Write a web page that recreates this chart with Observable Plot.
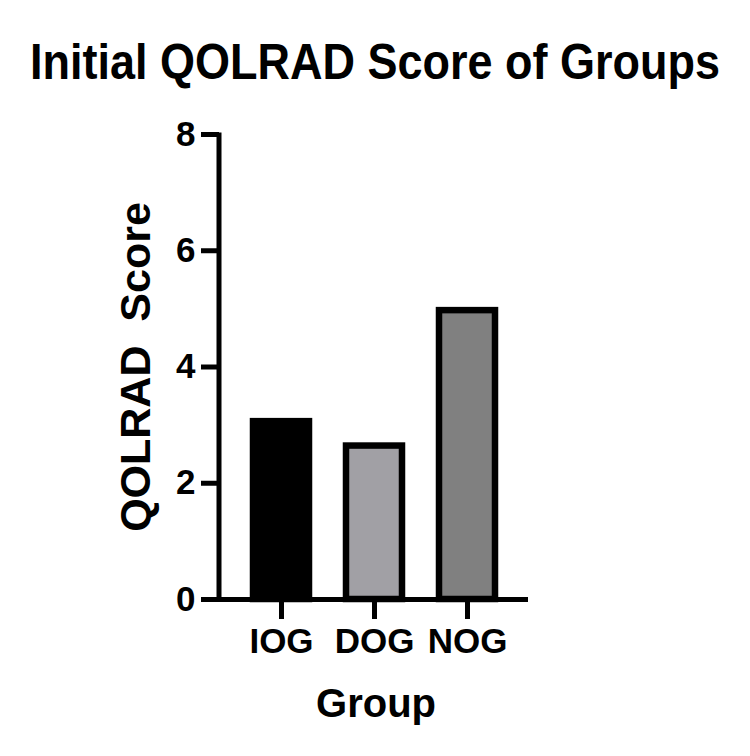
<!DOCTYPE html>
<html>
<head>
<meta charset="utf-8">
<script src="https://cdn.jsdelivr.net/npm/d3@7"></script>
<script src="https://cdn.jsdelivr.net/npm/@observablehq/plot@0.6"></script>
<style>
  html, body { margin: 0; padding: 0; background: #fff; }
  #wrap { width: 750px; font-family: "Liberation Sans", Arial, sans-serif; font-weight: bold; }
  #title { height: 110px; position: relative; }
  #title span { position: absolute; left: 0; right: 0; top: 37px; text-align: center; font-size: 45px; line-height: 1; color: #000; transform: scaleY(1.1); transform-origin: center top; }
  svg text { font-weight: bold; }
</style>
</head>
<body>
<div id="wrap">
  <div id="title"><span>Initial QOLRAD Score of Groups</span></div>
  <div id="chart"></div>
</div>
<script>
const groups = ["IOG", "DOG", "NOG"];
const scores = [3.06, 2.64, 4.97];
const fills = ["#000000", "#a1a0a5", "#808080"];
const yTicks = [0, 2, 4, 6, 8];
const xLabel = "Group";
const yLabel = "QOLRAD\u00a0\u00a0Score";

const data = groups.map((g, i) => ({group: g, score: scores[i], fill: fills[i]}));

function yAxisLine(a, b, c, d) {
  let scales, dims;
  if (a && !Array.isArray(a) && typeof a.y === "function") { scales = a; dims = b; }
  else { scales = b; dims = d; }
  const line = document.createElementNS("http://www.w3.org/2000/svg", "line");
  const x = dims.marginLeft;
  line.setAttribute("x1", x); line.setAttribute("x2", x);
  line.setAttribute("y1", scales.y(8) - 1.5);
  line.setAttribute("y2", scales.y(0) + 2.5);
  line.setAttribute("stroke", "#000");
  line.setAttribute("stroke-width", 5);
  const g = document.createElementNS("http://www.w3.org/2000/svg", "g");
  g.appendChild(line);
  return g;
}

const chart = Plot.plot({
  width: 750,
  height: 646,
  marginLeft: 219,
  marginRight: 222,
  marginTop: 24,
  marginBottom: 157,
  style: {fontFamily: "'Liberation Sans', Arial, sans-serif", fontWeight: "bold", color: "#000", background: "#fff", overflow: "visible"},
  x: {domain: groups, paddingInner: 0.398, paddingOuter: 0.36, label: null},
  y: {domain: [0, 8], label: null},
  marks: [
    Plot.barY(data, {x: "group", y: "score", fill: "fill", stroke: "#000", strokeWidth: 6.5}),
    Plot.axisY({ticks: yTicks, tickSize: 18, strokeWidth: 5, tickPadding: 6, fontSize: 35, fontWeight: "bold", label: null}),
    Plot.axisX({tickSize: 20, strokeWidth: 5, tickPadding: 9, fontSize: 35, fontWeight: "bold", label: null}),
    Plot.ruleY([0], {strokeWidth: 5, stroke: "#000"}),
    yAxisLine,
    Plot.text([xLabel], {frameAnchor: "bottom", dy: 105, dx: 2, fontSize: 40, fontWeight: "bold", fill: "#000", textAnchor: "middle", lineAnchor: "middle"}),
    Plot.text([yLabel], {frameAnchor: "left", dx: -83, rotate: -90, fontSize: 43, fontWeight: "bold", fill: "#000", textAnchor: "middle", lineAnchor: "middle"})
  ]
});
document.getElementById("chart").appendChild(chart);
</script>
</body>
</html>
